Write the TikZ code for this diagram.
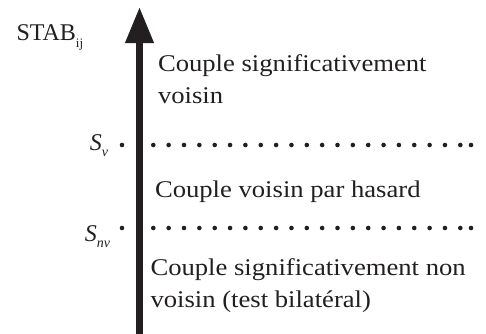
\documentclass[tikz,border=0pt]{standalone}
\usepackage{fontspec}
\setmainfont{Liberation Serif}
\newfontfamily\widefont[FakeStretch=1.11]{Liberation Serif}
\usetikzlibrary{arrows.meta}
\definecolor{ink}{HTML}{231F20}
\tikzset{
  lbl/.style={inner sep=0pt, outer sep=0pt, text=ink, font=\fontsize{24}{31.7}\selectfont, align=left},
  region/.style={lbl, font=\widefont\fontsize{24}{31.7}\selectfont},
  dotmark/.style={fill=ink, draw=none},
  axis/.style={draw=ink, line width=7pt, -{Triangle[width=27pt,length=36pt]}}
}
\begin{document}
\begin{tikzpicture}[x=1pt,y=-1pt]
\useasboundingbox (0,0) rectangle (486,333);
% axis
\coordinate (axbot) at (139.5,334);
\coordinate (axtop) at (139.5,7);
\draw[axis] (axbot) -- (axtop);
% title
\node[lbl, anchor=base west] (stab) at (16.5,40) {STAB\raisebox{-0.3em}{\fontsize{13}{13}\selectfont ij}};
% thresholds
\node[lbl, anchor=base east] (sv) at (108,150) {\textit{S}\raisebox{-0.25em}{\fontsize{14}{14}\selectfont\textit{v}}};
\node[lbl, anchor=base east] (snv) at (110,241.7) {\textit{S}\raisebox{-0.25em}{\fontsize{14}{14}\selectfont\textit{nv}}};
\fill[dotmark] (122,145) circle (2.3);
\fill[dotmark] (122,228) circle (2.3);
\foreach \k in {0,...,20} {
  \fill[dotmark] (153.3+15.35*\k,145) circle (2.3);
  \fill[dotmark] (153.3+15.35*\k,228) circle (2.3);
}
\fill[dotmark] (471,145) circle (2.3);
\fill[dotmark] (471,228) circle (2.3);
% region texts (base anchor = baseline of last line)
\node[region, anchor=base west] (t1) at (158,103) {Couple significativement\\voisin};
\node[region, anchor=base west] (t2) at (155,197) {Couple voisin par hasard};
\node[region, anchor=base west] (t3) at (150.5,307) {Couple significativement non\\voisin (test bilatéral)};
\end{tikzpicture}
\end{document}
